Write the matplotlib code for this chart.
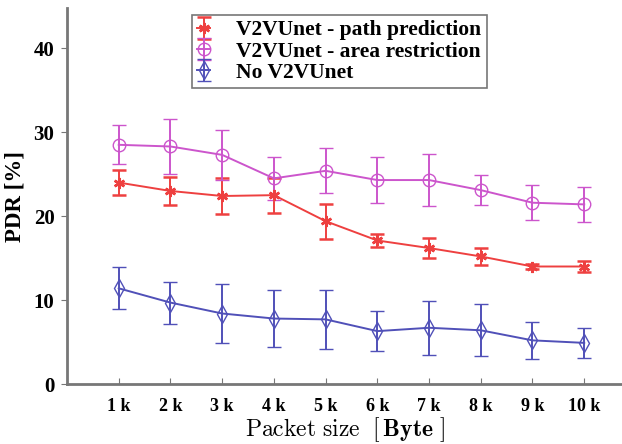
import matplotlib.pyplot as plt

plt.rcParams["font.family"] = ["Liberation Serif", "DejaVu Serif"]
plt.rcParams["mathtext.fontset"] = "cm"

packet_sizes = [1, 2, 3, 4, 5, 6, 7, 8, 9, 10]
tick_labels = ["1 k", "2 k", "3 k", "4 k", "5 k", "6 k", "7 k", "8 k", "9 k", "10 k"]

path_pred = [24.0, 23.0, 22.4, 22.5, 19.4, 17.1, 16.2, 15.2, 14.0, 14.0]
path_pred_err = [1.5, 1.7, 2.2, 2.1, 2.1, 0.8, 1.2, 1.0, 0.3, 0.6]

area_restr = [28.5, 28.3, 27.3, 24.5, 25.4, 24.3, 24.3, 23.1, 21.6, 21.4]
area_restr_err = [2.3, 3.3, 3.0, 2.6, 2.7, 2.7, 3.1, 1.8, 2.1, 2.1]

no_v2v = [11.4, 9.7, 8.4, 7.8, 7.7, 6.3, 6.7, 6.4, 5.2, 4.9]
no_v2v_err = [2.5, 2.5, 3.5, 3.4, 3.5, 2.4, 3.2, 3.1, 2.2, 1.8]

fig = plt.figure(figsize=(6.22, 4.44), dpi=100)
ax = fig.add_axes([67 / 622, 60 / 444, 556 / 622, 376 / 444])

ax.errorbar(packet_sizes, path_pred, yerr=path_pred_err, color="#ee4040",
            marker=(6, 2, 0), markersize=8, mew=1.8, capsize=5, lw=1.4, elinewidth=1.4,
            label="V2VUnet - path prediction")
ax.errorbar(packet_sizes, area_restr, yerr=area_restr_err, color="#cc55cc",
            marker="o", markersize=9, mfc="none", capsize=5, lw=1.4, elinewidth=1.4,
            label="V2VUnet - area restriction")
ax.errorbar(packet_sizes, no_v2v, yerr=no_v2v_err, color="#5050b8",
            marker="d", markersize=9, mfc="none", capsize=5, lw=1.4, elinewidth=1.4,
            label="No V2VUnet")

ax.set_xlim(0, 10.75)
ax.set_ylim(0, 44.8)
ax.set_xticks(packet_sizes)
ax.set_xticklabels(tick_labels, fontsize=13, fontweight="bold")
ax.set_yticks([0, 10, 20, 30, 40])
ax.set_yticklabels(["0", "10", "20", "30", "40"], fontsize=15, fontweight="bold")
ax.tick_params(axis="x", direction="in", length=4, color="#777777", pad=10)
ax.tick_params(axis="y", direction="out", length=4, color="#777777", pad=5)

for side in ("top", "right"):
    ax.spines[side].set_visible(False)
for side in ("left", "bottom"):
    ax.spines[side].set_color("#777777")
    ax.spines[side].set_linewidth(2)

ax.set_ylabel("PDR [%]", fontsize=16.5, fontweight="bold", labelpad=6)
ax.set_xlabel(r"$\mathrm{Packet\ size}\ \ [\,\mathbf{Byte}\ ]$", fontsize=17, labelpad=0)

leg = ax.legend(loc="upper left", bbox_to_anchor=(192 / 622, 1 - 15 / 444),
                bbox_transform=fig.transFigure,
                prop={"family": "Liberation Serif", "size": 15.5, "weight": "bold"},
                frameon=True, fancybox=False, borderpad=0.25, labelspacing=0.05,
                handlelength=0.6, handletextpad=1.2, borderaxespad=0)
leg.get_frame().set_edgecolor("#555555")
leg.get_frame().set_linewidth(1.2)

fig.savefig("out.png", dpi=100)
